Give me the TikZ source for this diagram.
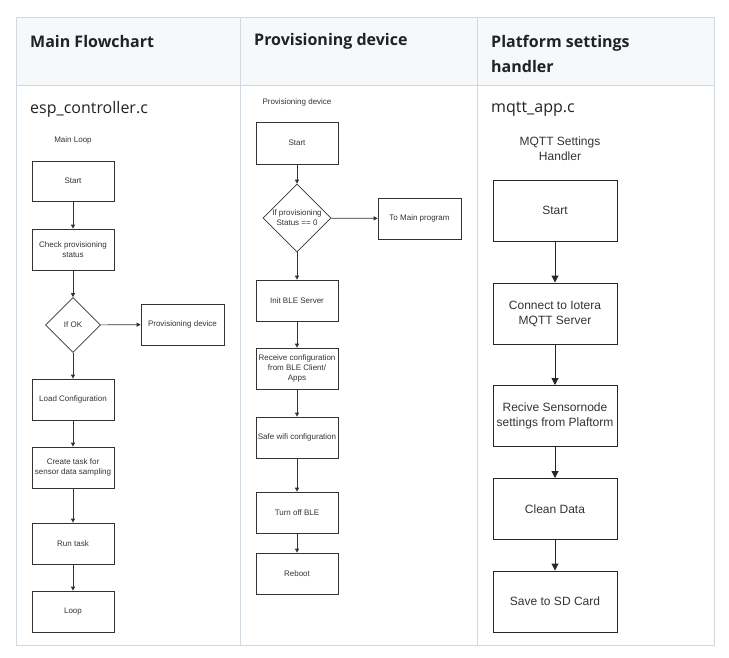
\documentclass[tikz,border=0pt]{standalone}
\usepackage{fontspec}
\setmainfont{Liberation Sans}
\newfontfamily\uifont{Open Sans}
\usetikzlibrary{arrows.meta,shapes.geometric}
\definecolor{hdrbg}{HTML}{F6F8FA}
\definecolor{gridc}{HTML}{D1D9E0}
\definecolor{ink}{HTML}{1F2328}
\definecolor{fc}{HTML}{333333}
\tikzset{
  boxA/.style={draw=fc, line width=0.7pt, minimum width=82pt, minimum height=41pt, inner xsep=0pt, inner ysep=1pt, align=center, font=\fontsize{8}{9.8}\selectfont, text=fc},
  diaA/.style={draw=fc, line width=0.7pt, diamond, aspect=1, inner sep=0pt, font=\fontsize{8}{9.8}\selectfont, text=fc, align=center},
  lblA/.style={font=\fontsize{8}{9.8}\selectfont, text=fc, align=center, inner sep=0pt},
  arrA/.style={draw=fc, line width=0.7pt, -{Triangle[length=4pt,width=4pt]}},
  boxB/.style={draw=black!85, line width=1pt, minimum width=124pt, minimum height=61pt, inner sep=1pt, align=center, font=\fontsize{12}{15}\selectfont, text=fc},
  arrB/.style={draw=black!85, line width=1pt, -{Triangle[length=7pt,width=7pt]}},
  hdr/.style={font=\uifont\bfseries\fontsize{16}{25}\selectfont, text=ink, anchor=west, align=left, inner sep=0pt},
  fname/.style={font=\uifont\fontsize{16}{20}\selectfont, text=ink, anchor=west, inner sep=0pt},
}
\begin{document}
\begin{tikzpicture}[x=1pt,y=-1pt]
\useasboundingbox (0,0) rectangle (729,657);
% table
\fill[hdrbg] (16,17) rectangle (714,85);
\draw[gridc, line width=1pt] (16,17) rectangle (714,645);
\draw[gridc, line width=1pt] (16,85) -- (714,85);
\draw[gridc, line width=1pt] (240,17) -- (240,645);
\draw[gridc, line width=1pt] (477,17) -- (477,645);
% headers
\node[hdr] (h1) at (30,41) {Main Flowchart};
\node[hdr] (h2) at (254,41) {Provisioning device};
\node[hdr] (h3) at (491,53.5) {Platform settings\\handler};
\node[fname] (f1) at (30,109) {esp\_controller.c};
\node[fname] (f3) at (491,109) {mqtt\_app.c};
% column 1
\node[lblA] (t1) at (73,140) {Main Loop};
\node[boxA, minimum height=40pt] (a1) at (73,181) {Start};
\node[boxA] (a2) at (73,249.5) {Check provisioning\\status};
\node[diaA, minimum width=55pt, minimum height=55pt] (a3) at (73,325) {If OK};
\node[boxA, minimum width=83pt] (a4) at (182.5,324.5) {Provisioning device};
\node[boxA] (a5) at (73,399.5) {Load Configuration};
\node[boxA] (a6) at (73,467.5) {Create task for\\sensor data sampling};
\node[boxA] (a7) at (73,543.5) {Run task};
\node[boxA] (a8) at (73,611.5) {Loop};
\draw[arrA] (a1) -- (a2);
\draw[arrA] (a2) -- (a3);
\draw[arrA] (a3) -- (a4);
\draw[arrA] (a3) -- (a5);
\draw[arrA] (a5) -- (a6);
\draw[arrA] (a6) -- (a7);
\draw[arrA] (a7) -- (a8);
% column 2
\node[lblA] (t2) at (297,102) {Provisioning device};
\node[boxA, minimum height=42pt] (b1) at (297,143) {Start};
\node[diaA, minimum width=68pt, minimum height=68pt] (b2) at (297,218) {};
\node[lblA] (b2t) at (297,218) {If provisioning\\Status == 0};
\node[boxA, minimum width=83pt] (b3) at (419.5,218.5) {To Main program};
\node[boxA] (b4) at (297,300.5) {Init BLE Server};
\node[boxA] (b5) at (297,368.5) {Receive configuration\\from BLE Client/\\Apps};
\node[boxA] (b6) at (297,437.5) {Safe wifi configuration};
\node[boxA] (b7) at (297,512.5) {Turn off BLE};
\node[boxA] (b8) at (297,573.5) {Reboot};
\draw[arrA] (b1) -- (b2);
\draw[arrA] (b2) -- (b3);
\draw[arrA] (b2) -- (b4);
\draw[arrA] (b4) -- (b5);
\draw[arrA] (b5) -- (b6);
\draw[arrA] (b6) -- (b7);
\draw[arrA] (b7) -- (b8);
% column 3
\node[lblA, font=\fontsize{12}{15}\selectfont] (t3) at (560,148.5) {MQTT Settings\\Handler};
\node[boxB] (c1) at (555,210.5) {Start};
\node[boxB] (c2) at (555,313.5) {Connect to Iotera\\MQTT Server};
\node[boxB] (c3) at (555,416) {Recive Sensornode\\settings from Plaftorm};
\node[boxB] (c4) at (555,509) {Clean Data};
\node[boxB] (c5) at (555,601.5) {Save to SD Card};
\draw[arrB] (c1) -- (c2);
\draw[arrB] (c2) -- (c3);
\draw[arrB] (c3) -- (c4);
\draw[arrB] (c4) -- (c5);
\end{tikzpicture}
\end{document}
